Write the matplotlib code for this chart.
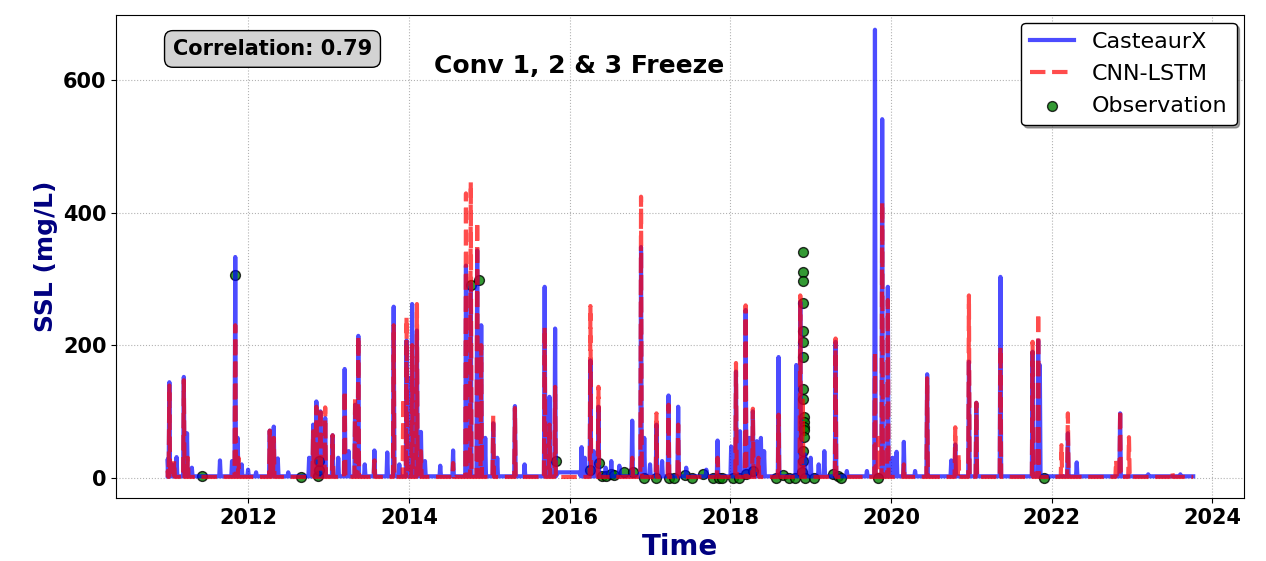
import numpy as np
import pandas as pd
import matplotlib
matplotlib.use("Agg")
import matplotlib.pyplot as plt

# peak readings (decimal year, mg/L)
cx_dates = [2011.00, 2011.02, 2011.06, 2011.11, 2011.20, 2011.24, 2011.30, 2011.65, 2011.80,
            2011.84, 2011.87, 2011.92, 2012.00, 2012.10, 2012.27, 2012.32, 2012.37, 2012.50,
            2012.76, 2012.81, 2012.85, 2012.90, 2012.96, 2013.05, 2013.12, 2013.20, 2013.25,
            2013.33, 2013.37, 2013.45, 2013.57, 2013.73, 2013.81, 2013.88, 2013.97, 2014.01,
            2014.04, 2014.10, 2014.15, 2014.20, 2014.39, 2014.55, 2014.71, 2014.77, 2014.85,
            2014.90, 2014.95, 2015.05, 2015.10, 2015.32, 2015.44, 2015.69, 2015.75, 2015.82,
            2016.15, 2016.19, 2016.26, 2016.30, 2016.36, 2016.45, 2016.52, 2016.62, 2016.78,
            2016.89, 2016.93, 2017.00, 2017.08, 2017.15, 2017.23, 2017.35, 2017.45, 2017.70,
            2017.84, 2018.01, 2018.07, 2018.12, 2018.19, 2018.24, 2018.28, 2018.33, 2018.38,
            2018.42, 2018.60, 2018.82, 2018.87, 2018.93, 2019.00, 2019.10, 2019.17, 2019.31,
            2019.45, 2019.70, 2019.80, 2019.89, 2019.96, 2020.02, 2020.07, 2020.16, 2020.30,
            2020.45, 2020.75, 2020.80, 2020.97, 2021.06, 2021.36, 2021.76, 2021.83, 2021.85,
            2022.20, 2022.31, 2022.85, 2023.20, 2023.60]
cx_vals = [28, 144, 20, 31, 152, 67, 15, 26, 25,
           333, 60, 20, 12, 8, 71, 77, 29, 8,
           30, 80, 115, 100, 90, 64, 30, 164, 40,
           110, 214, 20, 41, 38, 258, 20, 207, 150,
           262, 222, 69, 25, 18, 41, 320, 293, 343,
           230, 60, 82, 30, 108, 20, 288, 122, 225,
           46, 30, 177, 40, 107, 15, 25, 18, 86,
           348, 60, 20, 80, 25, 124, 107, 15, 12,
           56, 47, 160, 70, 253, 60, 100, 55, 60,
           40, 182, 170, 265, 35, 30, 20, 40, 205,
           10, 10, 676, 541, 288, 30, 39, 54, 10,
           156, 26, 50, 175, 113, 303, 190, 207, 170,
           67, 23, 97, 5, 5]
cx_flat_dates = [2015.86, 2016.12]
cx_flat_vals = [8, 8]

cnn_dates = [2011.00, 2011.02, 2011.08, 2011.20, 2011.25, 2011.84, 2011.88, 2012.27, 2012.32,
             2012.81, 2012.85, 2012.90, 2012.96, 2013.05, 2013.20, 2013.33, 2013.37, 2013.57,
             2013.81, 2013.93, 2013.97, 2014.04, 2014.10, 2014.15, 2014.55, 2014.71, 2014.77,
             2014.85, 2014.90, 2015.05, 2015.32, 2015.69, 2015.75, 2015.82, 2016.26, 2016.36,
             2016.78, 2016.89, 2017.08, 2017.23, 2017.35, 2017.84, 2018.07, 2018.19, 2018.28,
             2018.35, 2018.60, 2018.87, 2018.90, 2019.31, 2019.80, 2019.84, 2019.89, 2019.96,
             2020.16, 2020.45, 2020.80, 2020.84, 2020.97, 2021.06, 2021.36, 2021.76, 2021.83,
             2022.12, 2022.20, 2022.80, 2022.85, 2022.96, 2023.50]
cnn_vals = [10, 139, 25, 147, 30, 230, 30, 71, 60,
            70, 107, 106, 106, 64, 131, 120, 214, 26,
            230, 120, 242, 200, 262, 40, 22, 429, 446,
            386, 200, 94, 105, 227, 80, 137, 259, 137,
            30, 424, 97, 110, 80, 30, 173, 260, 104,
            30, 95, 275, 120, 210, 190, 60, 416, 268,
            20, 150, 76, 35, 275, 113, 197, 205, 248,
            49, 97, 26, 102, 61, 8]

obs_dates = [2011.43, 2011.84, 2012.66, 2012.87, 2012.88, 2012.88, 2014.77, 2014.87, 2015.83,
             2016.26, 2016.37, 2016.41, 2016.45, 2016.52, 2016.55, 2016.68, 2016.79, 2016.93,
             2017.07, 2017.23, 2017.30, 2017.43, 2017.52, 2017.66, 2017.78, 2017.86, 2017.89,
             2018.03, 2018.11, 2018.20, 2018.28, 2018.57, 2018.66, 2018.73, 2018.80, 2018.89,
             2018.90, 2018.90, 2018.90, 2018.91, 2018.91, 2018.91, 2018.91, 2018.91, 2018.91,
             2018.92, 2018.92, 2018.92, 2018.92, 2018.92, 2018.91, 2018.91, 2018.93, 2019.04,
             2019.28, 2019.34, 2019.38, 2019.84, 2021.90]
obs_vals = [3, 306, 1, 3, 12, 25, 291, 298, 25,
            12, 22, 3, 2, 5, 4, 9, 9, 0,
            0, 0, 0, 4, 0, 5, 0, 0, 0,
            0, 0, 5, 10, 0, 4, 0, 0, 8,
            340, 311, 297, 263, 222, 205, 182, 134, 119,
            91, 84, 77, 72, 62, 40, 25, 0, 0,
            5, 2, 0, 0, 0]

series_start = 2011.0
series_end = 2023.76
correlation = 0.79


def to_dt(y):
    yr = int(y)
    return pd.Timestamp(year=yr, month=1, day=1) + pd.Timedelta(days=(y - yr) * 365.25)


def spike_series(dates, vals, base, flat_d=(), flat_v=()):
    # each reading becomes a narrow spike on a low baseline
    hw = 0.009
    pts = [(series_start, base), (series_end, base)]
    for d, v in zip(dates, vals):
        pts += [(d - hw, base), (d, v), (d + hw, base)]
    pts += list(zip(flat_d, flat_v))
    pts.sort(key=lambda p: p[0])
    pts = [p for p in pts if series_start <= p[0] <= series_end]
    return [to_dt(p[0]) for p in pts], [p[1] for p in pts]


cx_x, cx_y = spike_series(cx_dates, cx_vals, 2, cx_flat_dates, cx_flat_vals)
cnn_x, cnn_y = spike_series(cnn_dates, cnn_vals, 1)

fig = plt.figure(figsize=(12.66, 5.61), dpi=100)
ax = fig.add_axes([0.092, 0.112, 0.891, 0.861])

ax.plot(cx_x, cx_y, color='blue', lw=3, alpha=0.7, label='CasteaurX', zorder=3)
ax.plot(cnn_x, cnn_y, color='red', lw=3, ls='--', alpha=0.7, label='CNN-LSTM', zorder=4)
ax.scatter([to_dt(d) for d in obs_dates], obs_vals, s=50, color='green',
           edgecolor='black', alpha=0.8, label='Observation', zorder=2)

ax.set_ylim(-31, 698)
ax.set_yticks([0, 200, 400, 600])
ax.grid(True, ls=':', color='gray', alpha=0.6)
ax.set_xlabel('Time', fontsize=20, fontweight='bold', color='navy')
ax.set_ylabel('SSL (mg/L)', fontsize=18, fontweight='bold', color='navy')
ax.tick_params(axis='both', labelsize=15)
for lab in ax.get_xticklabels() + ax.get_yticklabels():
    lab.set_fontweight('bold')

ax.text(0.05, 0.93, f'Correlation: {correlation:.2f}', transform=ax.transAxes,
        fontsize=15, fontweight='bold', va='center', ha='left',
        bbox=dict(boxstyle='round,pad=0.4', fc='lightgray', ec='black'))
ax.text(0.41, 0.894, 'Conv 1, 2 & 3 Freeze', transform=ax.transAxes,
        fontsize=18, fontweight='bold', va='center', ha='center')

leg = ax.legend(loc='upper right', fontsize=16, shadow=True, framealpha=1,
                edgecolor='black', labelspacing=0.55, borderaxespad=0.35)

fig.savefig('out.png', dpi=100)
